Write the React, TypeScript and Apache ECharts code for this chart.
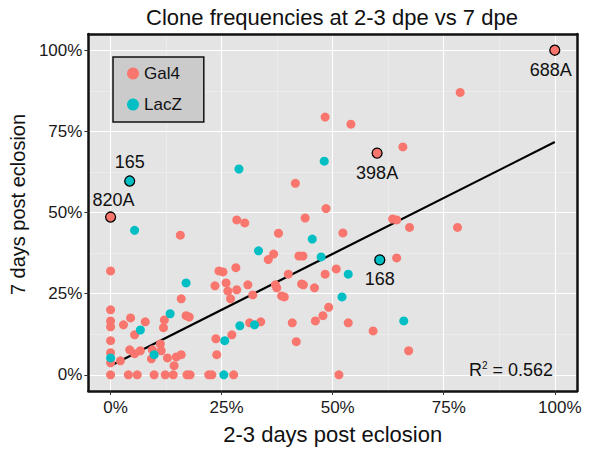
import React, { useEffect, useRef } from 'react';
import * as echarts from 'echarts';

// ---------- data ----------
const chartTitle = 'Clone frequencies at 2-3 dpe vs 7 dpe';
const xTitle = '2-3 days post eclosion';
const yTitle = '7 days post eclosion';
const seriesNames = ['Gal4', 'LacZ'];

const xTicks = [0, 25, 50, 75, 100];
const yTicks = [0, 25, 50, 75, 100];
const minorTicks = [12.5, 37.5, 62.5, 87.5];

// Gal4 clones: [2-3 dpe %, 7 dpe %]
const gal4Points: [number, number][] = [
  [0, 32], [0, 20], [0, 16.6], [0, 14.8], [0, 10.5], [0, 6.8], [0, 3.7], [0, 0],
  [2.2, 4.3], [2.9, 15.4], [4.5, 17.5], [7.8, 16.3], [5.4, 12.3], [4.3, 7.7],
  [6.7, 7.4], [5.4, 6.5], [9.4, 7.7], [11.2, 9.5], [11.4, 7.4], [9.2, 4.9],
  [12.8, 5.2], [14.3, 2.8], [14.8, 5.5], [15.9, 6.2], [12.1, 16.9], [11.9, 14.5],
  [4, 0], [6, 0], [9.8, 0], [12.3, 0], [14.1, 0], [17.2, 0], [17.9, 0], [22.1, 0],
  [22.8, 0], [27.7, 0], [51.4, 0],
  [15.9, 23.4], [15.7, 43], [17, 18.2], [17.7, 17.8], [23.5, 27.4], [26, 28.3],
  [26.4, 25.8], [28.4, 26.2], [30.9, 27.7], [27, 23.4], [32, 24.6], [37.1, 27.7],
  [37.4, 26.8], [38.5, 24.3], [39.1, 24], [43, 28], [43.4, 27.7], [45.9, 26.8],
  [24.4, 32], [25.3, 31.7], [28.2, 33], [40, 31], [48.3, 31], [50.8, 32.6],
  [36.7, 37.2], [35.5, 35.5], [42.4, 36.6], [43.3, 36.6], [37.8, 43.6], [52.3, 43.7],
  [28.4, 47.7], [30.2, 46.8], [43.8, 48.3], [48.5, 51.2], [41.6, 59], [48.3, 79.4],
  [54.1, 77.2], [65.8, 70.2], [78.7, 87], [63.5, 48], [64.4, 47.7], [67.3, 45.4],
  [78.1, 45.4], [64.4, 36], [49.1, 20.8], [47.8, 18.2], [46.1, 16.6], [53.5, 16],
  [59.1, 13.5], [40.9, 16], [41.8, 10.2], [67.1, 7.4], [31.3, 16], [33.8, 16.3],
  [27.3, 12.3], [23.7, 11.1], [23.9, 6.2],
];

// LacZ clones
const lacZPoints: [number, number][] = [
  [5.4, 44.5], [0, 5.2], [6.7, 13.8], [9.8, 6.2], [13.4, 18.8], [17, 28.3],
  [25.5, 0], [25.7, 10.5], [29.1, 15.1], [32.4, 15.4], [28.9, 63.4], [33.3, 38.2],
  [45.4, 41.8], [47.4, 36.3], [48.1, 65.8], [53.5, 31], [52.1, 24], [66, 16.6],
];

// named (outlined) clones
const gal4Named = [
  { name: '688A', x: 100, y: 100 },
  { name: '398A', x: 60, y: 68.3 },
  { name: '820A', x: 0, y: 48.6 },
];
const lacZNamed = [
  { name: '165', x: 4.3, y: 59.7 },
  { name: '168', x: 60.6, y: 35.4 },
];

// fitted regression line end points
const fitLine: [number, number][] = [[0, 2.8], [100, 71.7]];
const rSquared = '0.562';

// ---------- styling ----------
const FONT = '"Liberation Sans", Arial, Helvetica, sans-serif';
const RED = '#F8766D';
const TEAL = '#00BFC4';
const INK = '#111111';

const labelPlacement: Record<string, { position: string; offset: [number, number]; distance: number }> = {
  '688A': { position: 'bottom', offset: [-4, 0], distance: 5 },
  '398A': { position: 'bottom', offset: [0, 0], distance: 5 },
  '168': { position: 'bottom', offset: [0, 0], distance: 4 },
  '165': { position: 'top', offset: [0, 0], distance: 4 },
  '820A': { position: 'top', offset: [3, 0], distance: 2 },
};

function named(list: { name: string; x: number; y: number }[]) {
  return list.map((p) => ({
    name: p.name,
    value: [p.x, p.y],
    symbolSize: 10,
    itemStyle: { borderColor: '#000', borderWidth: 1.3 },
    label: {
      show: true,
      formatter: p.name,
      position: labelPlacement[p.name].position,
      distance: labelPlacement[p.name].distance,
      offset: labelPlacement[p.name].offset,
      fontSize: 18,
      color: INK,
      fontFamily: FONT,
    },
  }));
}

export default function App() {
  const ref = useRef<HTMLDivElement>(null);

  useEffect(() => {
    document.body.style.margin = '0';
    const chart = echarts.init(ref.current!, null, { renderer: 'svg' });

    const axisLineStyle = { show: true, onZero: false, lineStyle: { color: INK, width: 2.5 } };
    const hidden = {
      axisTick: { show: false },
      axisLabel: { show: false },
      splitLine: { show: false },
    };

    const option: any = {
      animation: false,
      textStyle: { fontFamily: FONT },
      title: {
        text: chartTitle,
        left: 332,
        top: 6,
        padding: 0,
        textAlign: 'center',
        textStyle: { fontSize: 22, fontWeight: 'normal', color: INK, fontFamily: FONT },
      },
      legend: {
        data: seriesNames,
        orient: 'vertical',
        left: 113,
        top: 57,
        padding: [8, 22, 9, 14],
        itemGap: 14,
        itemWidth: 12,
        itemHeight: 12,
        icon: 'circle',
        backgroundColor: '#cbcbcb',
        borderColor: INK,
        borderWidth: 1.5,
        selectedMode: false,
        textStyle: { fontSize: 17, color: INK, fontFamily: FONT },
      },
      grid: {
        left: 85,
        right: 12,
        top: 34,
        bottom: 58,
        show: true,
        backgroundColor: '#e4e4e4',
        borderWidth: 0,
      },
      xAxis: [
        {
          type: 'value',
          position: 'bottom',
          min: -5,
          max: 105,
          z: 5,
          name: xTitle,
          nameLocation: 'middle',
          nameGap: 32,
          nameTextStyle: { fontSize: 22, color: INK, fontFamily: FONT },
          axisLine: axisLineStyle,
          axisTick: { show: true, customValues: xTicks, length: 4, lineStyle: { color: '#333' } },
          axisLabel: {
            customValues: xTicks,
            formatter: (v: number) => `${v}%`,
            fontSize: 17,
            color: '#1a1a1a',
            margin: 8,
            padding: [0, 0, 0, 10],
            fontFamily: FONT,
          },
          splitLine: { show: false },
        },
        { type: 'value', position: 'top', min: -5, max: 105, z: 5, axisLine: axisLineStyle, ...hidden },
      ],
      yAxis: [
        {
          type: 'value',
          position: 'left',
          min: -5,
          max: 105,
          z: 5,
          name: yTitle,
          nameLocation: 'middle',
          nameGap: 56,
          nameTextStyle: { fontSize: 20, color: INK, fontFamily: FONT, padding: [0, 0, 0, 16] },
          axisLine: axisLineStyle,
          axisTick: { show: true, customValues: yTicks, length: 4, lineStyle: { color: '#333' } },
          axisLabel: {
            customValues: yTicks,
            formatter: (v: number) => `${v}%`,
            fontSize: 17,
            color: '#1a1a1a',
            margin: 6,
            fontFamily: FONT,
          },
          splitLine: { show: false },
        },
        { type: 'value', position: 'right', min: -5, max: 105, z: 5, axisLine: axisLineStyle, ...hidden },
      ],
      series: [
        {
          name: 'grid-lines',
          type: 'line',
          data: [],
          z: 1,
          silent: true,
          markLine: {
            z: 1,
            silent: true,
            symbol: ['none', 'none'],
            label: { show: false },
            lineStyle: { color: '#ffffff', type: 'solid', width: 1.1 },
            data: [
              ...minorTicks.map((v) => ({ xAxis: v, lineStyle: { width: 0.5, color: '#f4f4f4' } })),
              ...minorTicks.map((v) => ({ yAxis: v, lineStyle: { width: 0.5, color: '#f4f4f4' } })),
              ...xTicks.map((v) => ({ xAxis: v })),
              ...yTicks.map((v) => ({ yAxis: v })),
            ],
          },
        },
        {
          name: 'fit',
          type: 'line',
          data: fitLine,
          symbol: 'none',
          z: 2,
          silent: true,
          lineStyle: { color: '#000', width: 2.2 },
        },
        {
          name: 'Gal4',
          type: 'scatter',
          z: 4,
          symbolSize: 9,
          itemStyle: { color: RED, opacity: 1 },
          data: [...gal4Points, ...named(gal4Named)],
        },
        {
          name: 'LacZ',
          type: 'scatter',
          z: 4,
          symbolSize: 9,
          itemStyle: { color: TEAL, opacity: 1 },
          data: [...lacZPoints, ...named(lacZNamed)],
        },
      ],
      graphic: [
        {
          type: 'text',
          x: 553,
          y: 380,
          z: 10,
          style: {
            text: `{r|R}{s|2}{r| = ${rSquared}}`,
            align: 'right',
            verticalAlign: 'bottom',
            rich: {
              r: { fontSize: 18, fontFamily: FONT, fill: INK, lineHeight: 20 },
              s: { fontSize: 10, fontFamily: FONT, fill: INK, verticalAlign: 'top', lineHeight: 20 },
            },
          },
        },
      ],
    };

    chart.setOption(option);
    return () => chart.dispose();
  }, []);

  return <div ref={ref} style={{ width: 589, height: 450 }} />;
}
